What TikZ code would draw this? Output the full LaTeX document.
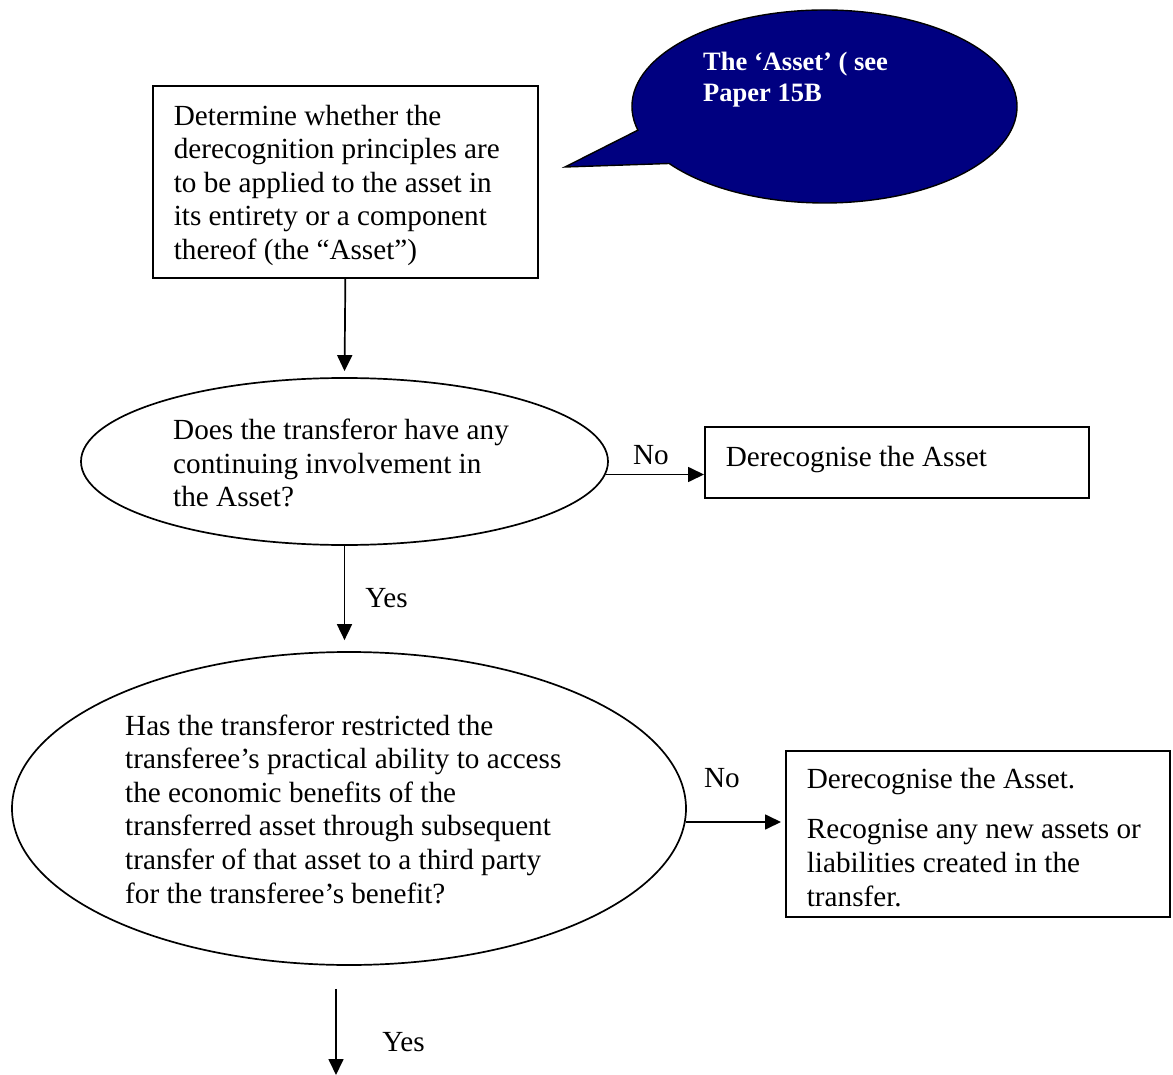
\documentclass[tikz,border=0pt]{standalone}
\usepackage{fontspec}
\setmainfont{Liberation Serif}
\usetikzlibrary{shapes.geometric,arrows.meta}
\definecolor{bubblenavy}{RGB}{0,0,128}
\newcommand{\natsp}{\spaceskip=0pt\xspaceskip=0pt\relax}
\begin{document}
\begin{tikzpicture}[x=1pt,y=-1pt,
  lw/.style={line width=1.7pt},
  txt/.style={font=\fontsize{29.2}{33.6}\selectfont},
  box/.style={draw,lw,rectangle,txt,inner xsep=21pt,inner ysep=0pt,align=left,anchor=north west},
  oval/.style={draw,lw,ellipse,inner sep=0pt},
  ovaltxt/.style={txt,align=left,anchor=west,inner sep=0pt},
  lbl/.style={txt,inner sep=0pt},
  arr/.style={lw,-{Triangle[length=16pt,width=15pt]}}]
\useasboundingbox (0,0) rectangle (1173,1075);

% speech bubble
\path[fill=bubblenavy,draw=black,line width=1.4pt]
  (565,167) -- (637.88,130.17)
  arc[start angle=194.2,end angle=-143.8,x radius=192.5pt,y radius=96.5pt]
  -- cycle;
\node[font=\bfseries\fontsize{26.5}{31}\selectfont,text=white,align=left,anchor=west,inner sep=0pt]
  (bubbletext) at (703,80) {The ‘Asset’ ( see\\Paper 15B};

% box 1
\node[box,text width=343pt,minimum width=385pt,minimum height=192pt] (b1) at (152,85)
  {\natsp\rule{0pt}{27pt}\mbox{Determine whether the}\\\mbox{derecognition principles are}\\\mbox{to be applied to the asset in}\\\mbox{its entirety or a component}\\\mbox{thereof (the “Asset”)}};

% ellipse 1
\node[oval,minimum width=527pt,minimum height=167pt] (e1) at (344.5,461.5) {};
\node[ovaltxt] (e1t) at (173,463)
  {Does the transferor have any\\continuing involvement in\\the Asset?};

% box 2
\node[box,text width=342pt,minimum width=384pt,minimum height=71pt,text depth=12pt] (b2) at (704,426)
  {\natsp\mbox{Derecognise the Asset}};

% ellipse 2
\node[oval,minimum width=674pt,minimum height=313pt] (e2) at (349,808.5) {};
\node[ovaltxt] (e2t) at (125,809)
  {Has the transferor restricted the\\transferee’s practical ability to access\\the economic benefits of the\\transferred asset through subsequent\\transfer of that asset to a third party\\for the transferee’s benefit?};

% box 3
\node[box,text width=342pt,minimum width=384pt,minimum height=166pt] (b3) at (785,750)
  {\natsp\rule{0pt}{27pt}\mbox{Derecognise the Asset.}\\[17pt]\mbox{Recognise any new assets or}\\\mbox{liabilities created in the}\\\mbox{transfer.}};

% connectors
\draw[arr,shorten >=6pt] (b1.south) -- (e1.north);
\draw[arr] ([xshift=-3pt,yshift=-13pt]e1.east) -- ([yshift=-13pt]e1.east -| b2.west);
\node[lbl] (no1) at (651,455) {No};
\draw[arr,shorten >=11pt] (e1.south) -- (e1.south |- e2.north);
\node[lbl] (yes1) at (386.5,598) {Yes};
\draw[arr,shorten >=4pt] ([xshift=-1pt,yshift=-13.5pt]e2.east) -- ([yshift=-13.5pt]e2.east -| b3.west);
\node[lbl] (no2) at (722,778) {No};
\coordinate (out3) at (336,1075);
\draw[arr] ([shift={(-13,23)}]e2.south) -- (out3);
\node[lbl] (yes2) at (403.5,1042) {Yes};
\end{tikzpicture}
\end{document}
